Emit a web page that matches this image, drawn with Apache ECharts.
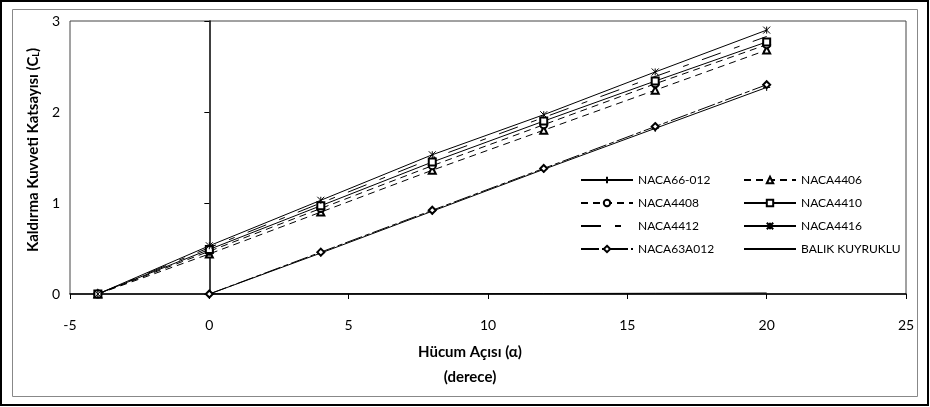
<!DOCTYPE html>
<html>
<head>
<meta charset="utf-8">
<script src="https://cdn.jsdelivr.net/npm/echarts@6/dist/echarts.min.js"></script>
<style>
  html, body { margin: 0; padding: 0; background: #fff; }
  #chart { width: 930px; height: 407px; }
</style>
</head>
<body>
<div id="chart"></div>
<script>
// hücum açısı (derece)
var anglesUpper = [-4, 0, 4, 8, 12, 16, 20];
var anglesLower = [0, 4, 8, 12, 16, 20];

// kaldırma katsayısı değerleri
var naca66_012 = [0, 0.45, 0.91, 1.37, 1.82, 2.27];
var naca4406 = [0, 0.44, 0.90, 1.36, 1.80, 2.24, 2.68];
var naca4408 = [0, 0.47, 0.94, 1.41, 1.86, 2.31, 2.74];
var naca4410 = [0, 0.49, 0.97, 1.45, 1.90, 2.34, 2.77];
var naca4412 = [0, 0.51, 1.00, 1.49, 1.94, 2.39, 2.83];
var naca4416 = [0, 0.53, 1.03, 1.53, 1.97, 2.44, 2.90];
var naca63a012 = [0, 0.46, 0.92, 1.38, 1.84, 2.30];
var balikKuyruklu = [0, 0.001, 0.003, 0.005, 0.008, 0.011];

var xTicks = [-5, 0, 5, 10, 15, 20, 25];
var yTicks = [0, 1, 2, 3];

var FONT = 'Lato';

function pairs(xs, ys) {
    return ys.map(function (v, i) { return [xs[i], v]; });
}

function makeSeries(name, xs, ys, symbol, dash) {
    // seri işaretçisi yoksa lejantta da görünmesin
    var noMark = !symbol;
    return {
        name: name,
        type: 'line',
        data: pairs(xs, ys),
        symbol: noMark ? 'circle' : symbol,
        symbolSize: 7,
        showSymbol: !noMark,
        itemStyle: noMark
            ? {color: 'rgba(0,0,0,0)', borderColor: 'rgba(0,0,0,0)', borderWidth: 0}
            : {color: '#000', borderColor: '#000', borderWidth: 1},
        lineStyle: {color: '#000', width: 1, type: dash || 'solid'},
        emphasis: {disabled: true},
        animation: false
    };
}

var plusPath = 'path://M5,0 L5,10 M0,5 L10,5';
var starPath = 'path://M0,0 L10,10 M10,0 L0,10 M5,0 L5,10';

var chart = echarts.init(document.getElementById('chart'));
chart.setOption({
    backgroundColor: '#fff',
    animation: false,
    textStyle: {fontFamily: FONT, color: '#000'},
    grid: {
        left: 70, right: 24, top: 21, bottom: 113,
        show: true, borderColor: '#444', borderWidth: 1, backgroundColor: '#fff'
    },
    xAxis: {
        type: 'value',
        min: xTicks[0],
        max: xTicks[xTicks.length - 1],
        interval: 5,
        splitLine: {show: false},
        axisLine: {onZero: false, lineStyle: {color: '#000', width: 1.5}},
        axisTick: {show: true, length: 5, lineStyle: {color: '#000'}},
        axisLabel: {fontSize: 14, color: '#000', margin: 24, fontFamily: FONT}
    },
    yAxis: {
        type: 'value',
        min: yTicks[0],
        max: yTicks[yTicks.length - 1],
        interval: 1,
        splitLine: {show: false},
        axisLine: {onZero: true, lineStyle: {color: '#000', width: 1.5}},
        axisTick: {show: true, length: 5, lineStyle: {color: '#000'}},
        axisLabel: {fontSize: 14, color: '#000', margin: 10, fontFamily: FONT}
    },
    legend: [{
        data: ['NACA66-012', 'NACA4408', 'NACA4412', 'NACA63A012'],
        orient: 'vertical',
        left: 580, top: 174,
        itemWidth: 52, itemHeight: 8, itemGap: 11, padding: 0,
        textStyle: {fontSize: 12, color: '#000', fontFamily: FONT},
        selectedMode: false
    }, {
        data: ['NACA4406', 'NACA4410', 'NACA4416', 'BALIK KUYRUKLU'],
        orient: 'vertical',
        left: 743, top: 174,
        itemWidth: 52, itemHeight: 8, itemGap: 11, padding: 0,
        textStyle: {fontSize: 12, color: '#000', fontFamily: FONT},
        selectedMode: false
    }],
    series: [
        makeSeries('BALIK KUYRUKLU', anglesLower, balikKuyruklu, null, 'solid'),
        makeSeries('NACA66-012', anglesLower, naca66_012, plusPath, 'solid'),
        makeSeries('NACA63A012', anglesLower, naca63a012, 'emptyDiamond', [18, 3, 5, 3]),
        makeSeries('NACA4406', anglesUpper, naca4406, 'emptyTriangle', [7, 5]),
        makeSeries('NACA4408', anglesUpper, naca4408, 'emptyCircle', [7, 5]),
        makeSeries('NACA4410', anglesUpper, naca4410, 'emptyRect', 'solid'),
        makeSeries('NACA4412', anglesUpper, naca4412, null, [20, 14, 6, 14]),
        makeSeries('NACA4416', anglesUpper, naca4416, starPath, 'solid')
    ],
    graphic: [{
        type: 'rect',
        shape: {x: 1, y: 1, width: 927, height: 404},
        style: {fill: 'none', stroke: '#000', lineWidth: 2},
        silent: true
    }, {
        type: 'rect',
        shape: {x: 12.5, y: 9.5, width: 905, height: 387},
        style: {fill: 'none', stroke: '#888', lineWidth: 1},
        silent: true
    }, {
        type: 'text',
        x: 33, y: 150,
        rotation: Math.PI / 2,
        style: {
            text: '{a|Kaldırma Kuvveti Katsayısı (C}{s|L}{a|)}',
            align: 'center',
            verticalAlign: 'middle',
            rich: {
                a: {fontSize: 15, fontWeight: 'bold', fontFamily: FONT, fill: '#000', lineHeight: 18},
                s: {fontSize: 9, fontWeight: 'bold', fontFamily: FONT, fill: '#000', lineHeight: 18, padding: [7, 0, 0, 0]}
            }
        },
        silent: true
    }, {
        type: 'text',
        x: 470, y: 352,
        style: {
            text: 'Hücum Açısı (α)',
            align: 'center', verticalAlign: 'middle',
            font: 'bold 15px ' + FONT, fill: '#000'
        },
        silent: true
    }, {
        type: 'text',
        x: 470, y: 377,
        style: {
            text: '(derece)',
            align: 'center', verticalAlign: 'middle',
            font: 'bold 15px ' + FONT, fill: '#000'
        },
        silent: true
    }]
});
</script>
</body>
</html>
